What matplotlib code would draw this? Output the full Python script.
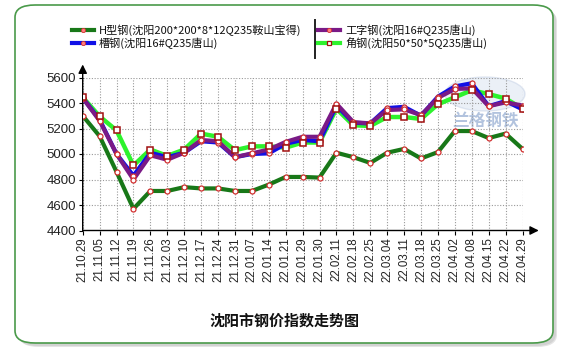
import matplotlib
matplotlib.use("Agg")
import matplotlib.pyplot as plt
from matplotlib.patches import FancyBboxPatch, Ellipse
from matplotlib.lines import Line2D

plt.rcParams['font.family'] = ['Noto Sans CJK SC', 'DejaVu Sans']

dates = ["21.10.29", "21.11.05", "21.11.12", "21.11.19", "21.11.26", "21.12.03",
         "21.12.10", "21.12.17", "21.12.24", "21.12.31", "22.01.07", "22.01.14",
         "22.01.21", "22.01.29", "22.01.30", "22.02.11", "22.02.18", "22.02.25",
         "22.03.04", "22.03.11", "22.03.18", "22.03.25", "22.04.02", "22.04.08",
         "22.04.15", "22.04.22", "22.04.29"]

h_steel = [5300, 5140, 4860, 4570, 4710, 4710, 4740, 4730, 4730, 4710, 4710, 4760,
           4820, 4820, 4815, 5010, 4975, 4930, 5010, 5040, 4965, 5015, 5180, 5180,
           5125, 5160, 5040]
channel = [5440, 5270, 5000, 4830, 5010, 4975, 5010, 5100, 5090, 4975, 5000, 5005,
           5080, 5110, 5100, 5380, 5245, 5240, 5360, 5370, 5300, 5450, 5530, 5555,
           5375, 5415, 5350]
i_beam = [5440, 5260, 5000, 4800, 4990, 4955, 5010, 5110, 5100, 4975, 5005, 5035,
          5095, 5135, 5135, 5395, 5250, 5240, 5345, 5350, 5305, 5440, 5510, 5515,
          5375, 5405, 5380]
angle = [5445, 5295, 5185, 4910, 5035, 4985, 5035, 5160, 5135, 5030, 5060, 5060,
         5050, 5090, 5090, 5355, 5225, 5220, 5290, 5290, 5275, 5390, 5445, 5500,
         5470, 5435, 5355]

labels = ["H型钢(沈阳200*200*8*12Q235鞍山宝得)", "槽钢(沈阳16#Q235唐山)",
          "工字钢(沈阳16#Q235唐山)", "角钢(沈阳50*50*5Q235唐山)"]
yticks = [4400, 4600, 4800, 5000, 5200, 5400, 5600]

W, H = 575, 351
fig = plt.figure(figsize=(W / 100, H / 100), dpi=100)


def fx(px):
    return px / W


def fy(py):
    return 1 - py / H


# frame with soft shadow
for off, col in [(4, "#e4e4e4"), (3, "#d2d2d2")]:
    sh = FancyBboxPatch((fx(15 + off), fy(343 + off)), fx(538), fy(5) - fy(343),
                        boxstyle="round,pad=0,rounding_size=0.035",
                        transform=fig.transFigure, facecolor=col, edgecolor="none",
                        zorder=0)
    fig.patches.append(sh)
frame = FancyBboxPatch((fx(15), fy(343)), fx(538), fy(5) - fy(343),
                       boxstyle="round,pad=0,rounding_size=0.035",
                       transform=fig.transFigure, facecolor="white", edgecolor="#4a9a4a",
                       linewidth=1.2, zorder=1)
fig.patches.append(frame)

ax = fig.add_axes([fx(82.7), fy(230.5), fx(522.5 - 82.7), fy(77.5) - fy(230.5)])
ax.set_zorder(2)
ax.patch.set_alpha(0)

x = list(range(len(dates)))
ax.plot(x, angle, color="#2df22d", lw=3.2, zorder=3)
ax.plot(x, channel, color="#1010e6", lw=3.0, zorder=4)
ax.plot(x, i_beam, color="#7a1a86", lw=3.0, zorder=5)
ax.plot(x, h_steel, color="#187818", lw=3.0, zorder=6)

circ = dict(ls="none", marker="o", ms=3.6, mfc="white", mec="#d23030", mew=0.9, zorder=8)
ax.plot(x, channel, **circ)
ax.plot(x, i_beam, **circ)
ax.plot(x, h_steel, **circ)
ax.plot(x, angle, ls="none", marker="s", ms=4.0, mfc="white", mec="#a01010", mew=1.1, zorder=9)

ax.set_xlim(0, len(dates) - 1)
ax.set_ylim(4400, 5600)
ax.set_xticks(x)
ax.set_xticklabels(dates, rotation=90, fontsize=8.3, family="Liberation Sans", color="#222222")
ax.set_yticks(yticks)
ax.set_yticklabels([str(v) for v in yticks], fontsize=9.5, family="Liberation Sans", color="#222222")
ax.tick_params(axis="both", length=3, width=0.8, pad=2)
ax.grid(True, color="#999999", ls=(0, (1, 1.5)), lw=0.8)
for s in ["top", "right", "left", "bottom"]:
    ax.spines[s].set_visible(False)

# axes with arrows
ax.annotate("", xy=(0, 1.085), xytext=(0, 0), xycoords="axes fraction",
            arrowprops=dict(arrowstyle="-|>", color="black", lw=1.0, mutation_scale=13,
                            shrinkA=0, shrinkB=0), annotation_clip=False)
ax.annotate("", xy=(1.037, 0), xytext=(0, 0), xycoords="axes fraction",
            arrowprops=dict(arrowstyle="-|>", color="black", lw=1.0, mutation_scale=13,
                            shrinkA=0, shrinkB=0), annotation_clip=False)

# watermark
fig.patches.append(Ellipse((fx(485), fy(94)), fx(80), fy(78) - fy(112),
                           transform=fig.transFigure, facecolor="#c6d4ea", alpha=0.35,
                           edgecolor="#b0c0dc", zorder=1.5))
fig.text(fx(485), fy(121), "兰格钢铁", fontsize=12, color="#9fb4d6", alpha=0.8,
         ha="center", va="center", fontweight="bold", zorder=1.6)

# legend
leg = [(72, 30, "#187818", "o", 0), (72, 43, "#1010e6", "o", 1),
       (318, 30, "#7a1a86", "o", 2), (318, 43, "#2df22d", "s", 3)]
for lx, ly, col, mk, i in leg:
    fig.add_artist(Line2D([fx(lx), fx(lx + 22)], [fy(ly), fy(ly)], color=col, lw=3,
                          transform=fig.transFigure, zorder=5))
    if mk == "o":
        fig.add_artist(Line2D([fx(lx + 11)], [fy(ly)], marker="o", ms=3, mfc="#ff8080",
                              mec="#d23030", mew=0.6, transform=fig.transFigure, zorder=6))
    else:
        fig.add_artist(Line2D([fx(lx + 11)], [fy(ly)], marker="s", ms=3.5, mfc="white",
                              mec="#a01010", mew=0.9, transform=fig.transFigure, zorder=6))
    fig.text(fx(lx + 27), fy(ly), labels[i], fontsize=8.0, va="center", ha="left",
             color="#111111", zorder=6)
fig.add_artist(Line2D([fx(315), fx(315)], [fy(20), fy(58)], color="#222222", lw=1.4,
                      transform=fig.transFigure, zorder=5))

fig.text(fx(284), fy(321), "沈阳市钢价指数走势图", fontsize=10.8, fontweight="bold",
         ha="center", va="center", color="#111111", zorder=6)

fig.savefig("out.png", dpi=100)
